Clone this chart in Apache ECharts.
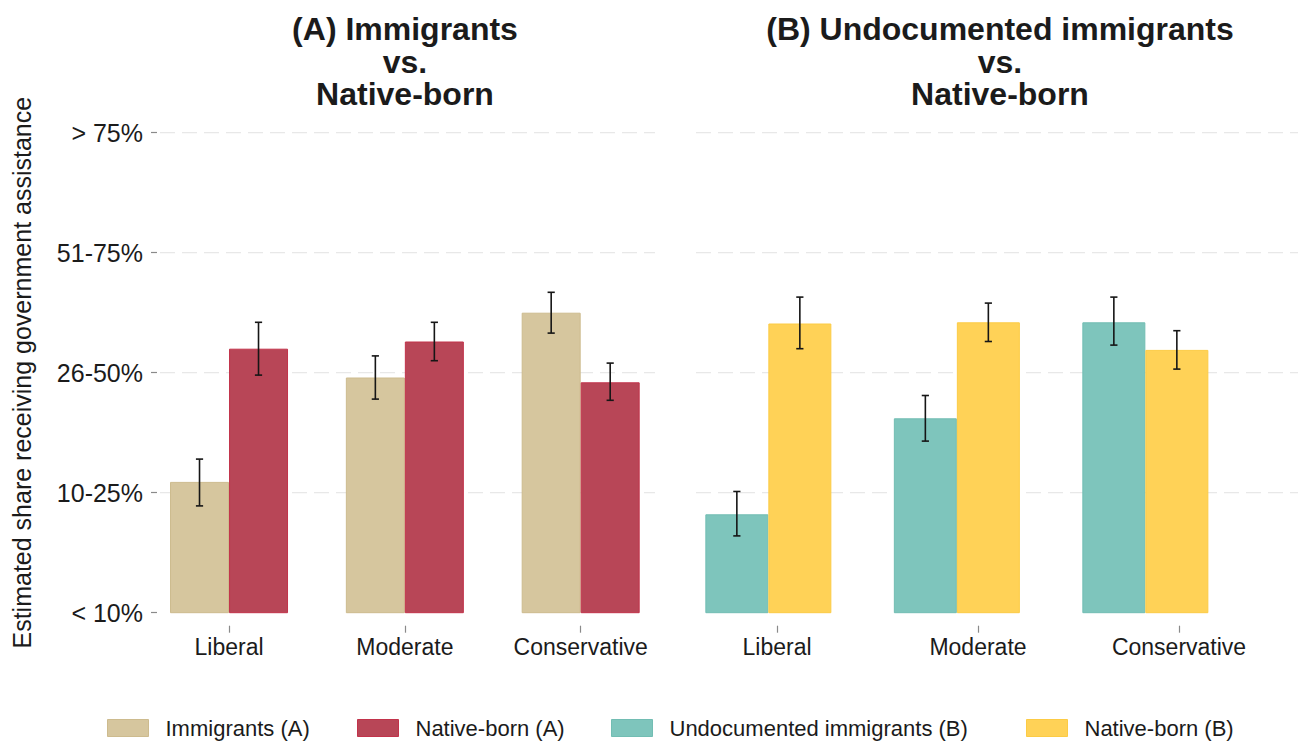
<!DOCTYPE html>
<html>
<head>
<meta charset="utf-8">
<script src="https://cdn.jsdelivr.net/npm/echarts@6/dist/echarts.min.js"></script>
<style>
  html, body { margin: 0; padding: 0; background: #fff; }
  #chart { width: 1309px; height: 742px; }
</style>
</head>
<body>
<div id="chart"></div>
<script>
// Ideology groups on the x axis
const categories = ['Liberal', 'Moderate', 'Conservative'];

// Ordinal response scale: 1 = "< 10%" ... 5 = "> 75%"
const yTickValues = [1, 2, 3, 4, 5];
const yTickLabels = ['< 10%', '10-25%', '26-50%', '51-75%', '> 75%'];
const gridValues = [2, 3, 4, 5];

// Panel A: mean estimates with 95% intervals
const immigrantsA = [2.09, 2.96, 3.50];
const immigrantsALow = [1.89, 2.78, 3.33];
const immigrantsAHigh = [2.28, 3.14, 3.67];

const nativeA = [3.20, 3.26, 2.92];
const nativeALow = [2.98, 3.10, 2.77];
const nativeAHigh = [3.42, 3.42, 3.08];

// Panel B
const undocumentedB = [1.82, 2.62, 3.42];
const undocumentedBLow = [1.64, 2.43, 3.23];
const undocumentedBHigh = [2.01, 2.81, 3.63];

const nativeB = [3.41, 3.42, 3.19];
const nativeBLow = [3.20, 3.26, 3.03];
const nativeBHigh = [3.63, 3.58, 3.35];

// Panel headings, one entry per line
const titleA = ['(A) Immigrants', 'vs.', 'Native-born'];
const titleB = ['(B) Undocumented immigrants', 'vs.', 'Native-born'];
const yTitle = 'Estimated share receiving government assistance';

const seriesNames = ['Immigrants (A)', 'Native-born (A)', 'Undocumented immigrants (B)', 'Native-born (B)'];
const colors = ['#D6C69E', '#B84657', '#7EC5BC', '#FFD257'];
const borders = ['#CDBB8E', '#C2334B', '#72BDB3', '#FCCB45'];

const FONT = '"Liberation Sans", Arial, Helvetica, sans-serif';
const TEXT = '#1b1b1b';

const PLOT_TOP = 132.7;
const PLOT_H = 480;
const BAR_W_A = 59;
const BAR_W_B = 63;

const chart = echarts.init(document.getElementById('chart'), null, { renderer: 'svg' });

function errData(lo, hi) {
  return lo.map((v, i) => [i, v, hi[i]]);
}

function errorBarRenderer(side, barW) {
  return function (params, api) {
    const i = api.value(0);
    const pLo = api.coord([i, api.value(1)]);
    const pHi = api.coord([i, api.value(2)]);
    const x = pLo[0] + side * barW / 2;
    const cap = 3.6;
    const style = { stroke: '#161616', lineWidth: 1.6, fill: null };
    return {
      type: 'group',
      children: [
        { type: 'line', shape: { x1: x, y1: pLo[1], x2: x, y2: pHi[1] }, style },
        { type: 'line', shape: { x1: x - cap, y1: pLo[1], x2: x + cap, y2: pLo[1] }, style },
        { type: 'line', shape: { x1: x - cap, y1: pHi[1], x2: x + cap, y2: pHi[1] }, style }
      ]
    };
  };
}

function gridLineRenderer(params, api) {
  const cs = params.coordSys;
  const y = api.coord([0, api.value(0)])[1];
  return {
    type: 'line',
    shape: { x1: cs.x + 3, y1: y, x2: cs.x + cs.width, y2: y },
    style: { stroke: '#E8E8E8', lineWidth: 1.3, lineDash: [15, 7] },
    silent: true
  };
}

function valueAxis(gridIndex, showLabels) {
  return {
    type: 'value', gridIndex, min: 1, max: 5, interval: 1,
    splitLine: { show: false },
    axisLine: { show: false },
    axisTick: { show: showLabels, length: 6, lineStyle: { color: '#8a8a8a', width: 1.2 } },
    axisLabel: {
      show: showLabels, margin: 14, fontSize: 25, fontFamily: FONT, color: TEXT,
      formatter: v => yTickLabels[yTickValues.indexOf(v)] || ''
    }
  };
}

function categoryAxis(gridIndex, showLabels) {
  return {
    type: 'category', gridIndex, data: categories,
    offset: 13,
    axisLine: { show: false },
    axisTick: { show: showLabels, alignWithLabel: true, length: 7, lineStyle: { color: '#8a8a8a', width: 1.2 } },
    axisLabel: { show: showLabels, margin: 10, fontSize: 23, fontFamily: FONT, color: TEXT },
    splitLine: { show: false }
  };
}

function hiddenX(gridIndex) {
  return { type: 'value', gridIndex, min: 0, max: 1, show: false };
}

function barSeries(k, data, axisIdx, barW) {
  return {
    name: seriesNames[k], type: 'bar', data,
    xAxisIndex: axisIdx, yAxisIndex: axisIdx,
    barWidth: barW, barGap: '0%', clip: true, z: 2,
    itemStyle: { color: colors[k], borderColor: borders[k], borderWidth: 1 },
    emphasis: { disabled: true }
  };
}

function errSeries(lo, hi, axisIdx, side, barW) {
  return {
    type: 'custom', xAxisIndex: axisIdx, yAxisIndex: axisIdx, z: 5,
    data: errData(lo, hi), encode: { x: 0, y: [1, 2] },
    renderItem: errorBarRenderer(side, barW), silent: true
  };
}

function gridSeries(axisIdx) {
  return {
    type: 'custom', xAxisIndex: axisIdx, yAxisIndex: axisIdx, z: 0,
    data: gridValues.map(v => [v]), encode: { y: 0 },
    renderItem: gridLineRenderer, silent: true
  };
}

function legendAt(k, left) {
  return {
    data: [seriesNames[k]], left, top: 717, padding: 0,
    itemWidth: 41, itemHeight: 17, icon: 'rect', selectedMode: false,
    textStyle: { fontSize: 22, fontFamily: FONT, color: TEXT, padding: [0, 0, 0, 12] },
    itemStyle: { borderColor: borders[k], borderWidth: 1 }
  };
}

// Stacked heading lines, centred over a panel
function headingLines(lines, cx) {
  return lines.map((t, i) => ({
    type: 'text', x: cx, y: 13 + i * 32.5,
    style: { text: t, font: 'bold 32px ' + FONT, fill: TEXT, align: 'center', verticalAlign: 'top' }
  }));
}

const option = {
  backgroundColor: '#ffffff',
  animation: false,
  grid: [
    { left: 157, top: PLOT_TOP, width: 498, height: PLOT_H },      // panel A guide lines + y axis
    { left: 141.1, top: PLOT_TOP, width: 527.5, height: PLOT_H },  // panel A bars + labels
    { left: 693, top: PLOT_TOP, width: 605, height: PLOT_H },      // panel B guide lines
    { left: 674.1, top: PLOT_TOP, width: 565.5, height: PLOT_H },  // panel B bars
    { left: 676.5, top: PLOT_TOP, width: 603, height: PLOT_H }     // panel B category labels
  ],
  xAxis: [hiddenX(0), categoryAxis(1, true), hiddenX(2), categoryAxis(3, false), categoryAxis(4, true)],
  yAxis: [valueAxis(0, true), valueAxis(1, false), valueAxis(2, false), valueAxis(3, false), valueAxis(4, false)],
  legend: [legendAt(0, 107), legendAt(1, 357), legendAt(2, 611), legendAt(3, 1026)],
  graphic: [
    ...headingLines(titleA, 405),
    ...headingLines(titleB, 1000),
    {
      type: 'text', x: 22, y: 372.7, rotation: Math.PI / 2,
      style: { text: yTitle, font: '25px ' + FONT, fill: TEXT, align: 'center', verticalAlign: 'middle' }
    }
  ],
  series: [
    gridSeries(0),
    gridSeries(2),
    barSeries(0, immigrantsA, 1, BAR_W_A),
    barSeries(1, nativeA, 1, BAR_W_A),
    barSeries(2, undocumentedB, 3, BAR_W_B),
    barSeries(3, nativeB, 3, BAR_W_B),
    errSeries(immigrantsALow, immigrantsAHigh, 1, -1, BAR_W_A),
    errSeries(nativeALow, nativeAHigh, 1, 1, BAR_W_A),
    errSeries(undocumentedBLow, undocumentedBHigh, 3, -1, BAR_W_B),
    errSeries(nativeBLow, nativeBHigh, 3, 1, BAR_W_B)
  ]
};

chart.setOption(option);
</script>
</body>
</html>
